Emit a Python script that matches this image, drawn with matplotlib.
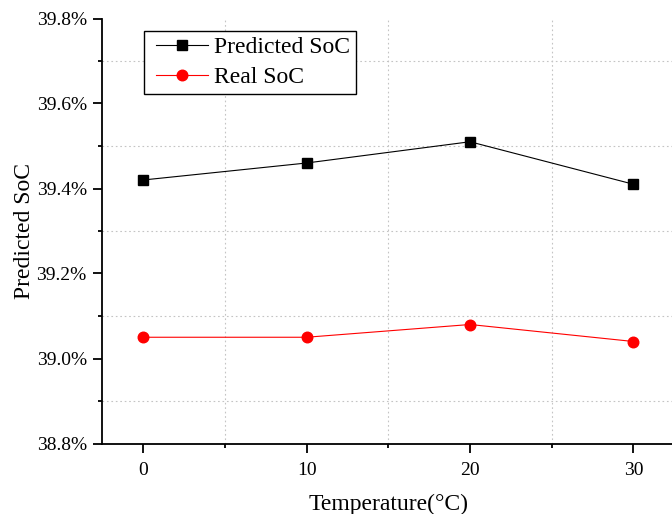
import matplotlib
matplotlib.use("Agg")
import matplotlib.pyplot as plt
from matplotlib.ticker import MultipleLocator, FuncFormatter
from matplotlib.legend_handler import HandlerLine2D

temperature = [0, 10, 20, 30]
predicted_soc = [39.42, 39.46, 39.51, 39.41]
real_soc = [39.05, 39.05, 39.08, 39.04]
x_ticks = [0, 10, 20, 30]
y_ticks = [38.8, 39.0, 39.2, 39.4, 39.6, 39.8]

plt.rcParams['font.family'] = ['Liberation Serif', 'DejaVu Serif']

fig = plt.figure(figsize=(6.72, 5.14), dpi=100)
ax = fig.add_axes([102.3 / 672, (514 - 443.5) / 514, 572 / 672, 425 / 514])

grid_kw = dict(color='#c4c4c4', linewidth=0.8, linestyle=(0, (1.5, 2.5)))
ax.set_xlim(-2.5, 32.5)
ax.set_ylim(38.8, 39.8)
ax.set_xticks(x_ticks)
ax.xaxis.set_minor_locator(MultipleLocator(5))
ax.set_yticks(y_ticks)
ax.yaxis.set_minor_locator(MultipleLocator(0.2, offset=0.1))
ax.yaxis.set_major_formatter(FuncFormatter(lambda v, p: f"{v:.1f}%"))
ax.grid(which='minor', **grid_kw)
ax.grid(which='major', visible=False)
ax.set_axisbelow(True)

l1, = ax.plot(temperature, predicted_soc, color='black', linewidth=0.8, marker='s',
              markersize=6.8, label='Predicted SoC', zorder=3)
l2, = ax.plot(temperature, real_soc, color='red', linewidth=0.8, marker='o',
              markersize=7.6, label='Real SoC', zorder=3)

for s in ['top', 'right']:
    ax.spines[s].set_visible(False)
for s in ['left', 'bottom']:
    ax.spines[s].set_linewidth(1.3)

ax.tick_params(which='major', direction='out', length=6.2, width=1.3,
               labelsize=14, colors='black')
ax.tick_params(axis='x', which='major', pad=7)
ax.tick_params(axis='y', which='major', pad=5)
ax.tick_params(which='minor', direction='out', length=2.6, width=1.3)

ax.set_xlabel('Temperature(°C)', fontsize=17)
ax.set_ylabel('Predicted SoC', fontsize=17)
ax.xaxis.set_label_coords(0.5, -0.119)
ax.yaxis.set_label_coords(-0.118, 0.5)

hm = {l1: HandlerLine2D(xpad=0.26), l2: HandlerLine2D(xpad=0.26)}
leg = ax.legend(handles=[l1, l2], handler_map=hm,
                loc='upper left', bbox_to_anchor=(0.0729, 0.971),
                borderaxespad=0, fontsize=17, frameon=True, fancybox=False,
                edgecolor='black', handlelength=2.47, handletextpad=0.27,
                labelspacing=0.375, borderpad=0.235)
leg.get_frame().set_linewidth(1.0)
leg.get_frame().set_alpha(None)
leg.get_frame().set_facecolor('white')

fig.savefig('out.png', dpi=100)
